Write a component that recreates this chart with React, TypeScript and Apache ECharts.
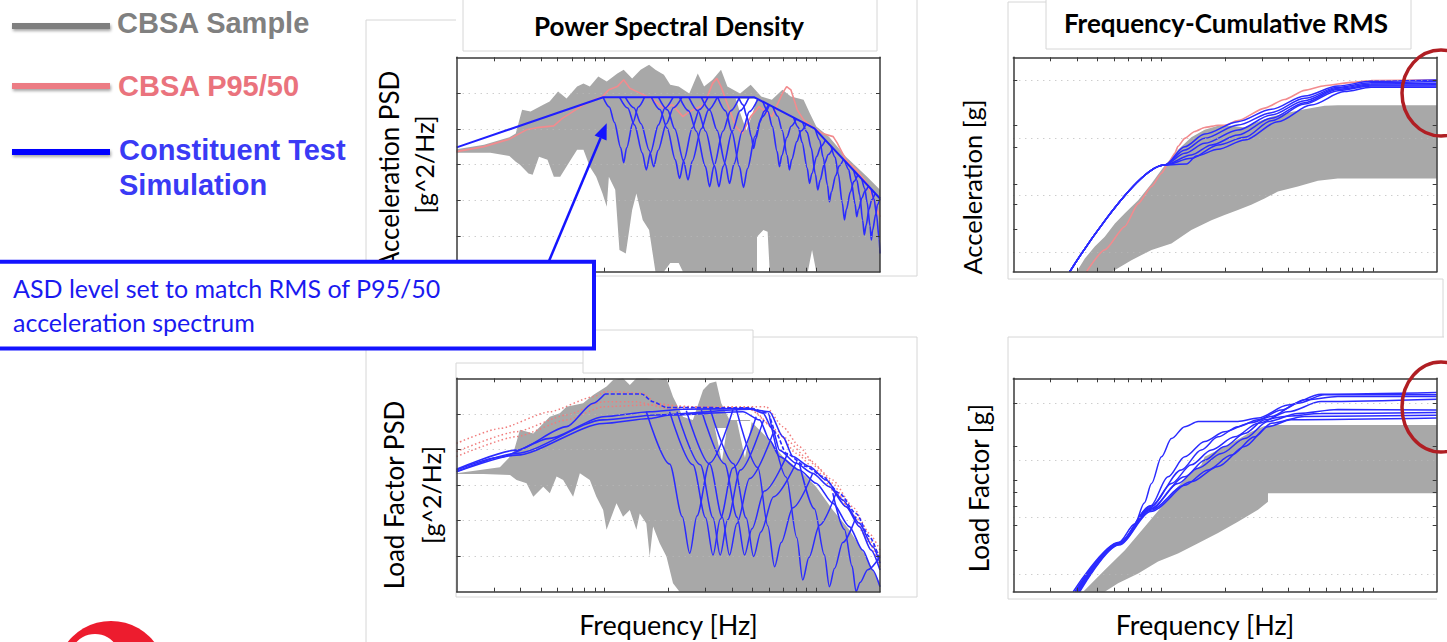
import React, { useEffect, useRef } from "react";
import * as echarts from "echarts";

type Pt = [number, number];

// x = log10(frequency [Hz]) from 2 Hz to 200 Hz ; y = log10(value)
const X_MIN = Math.log10(2);
const X_MAX = Math.log10(200);
const X_TICK_HZ = [3, 4, 5, 6, 7, 8, 9, 10, 20, 30, 40, 50, 60, 70, 80, 90, 100];

const PSD_Y_RANGE: Pt = [-6, 0];
const ACC_RMS_Y_RANGE: Pt = [-3.341, 0.408];
const LF_RMS_Y_RANGE: Pt = [-3.31, 0.439];
const PSD_Y_TICKS = [-5, -4, -3, -2, -1];
const ACC_RMS_Y_TICKS = [0, -0.78, -1.16, -1.81, -2.16, -2.59];
const LF_RMS_Y_TICKS = [0, -0.76, -1.35, -1.57, -1.81, -2.14, -2.58];
const PSD_GRID_LINES = [-5, -4, -3, -2, -1];
const RMS_GRID_LINES = [0, -1, -2, -3];

// ---------- Panel 1 : Acceleration PSD ----------
const accPsdEnvelope: Pt[] = [[0.301, -2.52], [0.993, -1.12], [1.708, -1.12], [1.991, -1.99], [2.301, -3.95]];
const accPsdP95: Pt[] = [[0.30, -2.64], [0.43, -2.50], [0.55, -2.29], [0.63, -2.03], [0.69, -1.96], [0.76, -1.92], [0.80, -1.71], [0.85, -1.52], [0.90, -1.33], [0.95, -1.19], [0.99, -1.10], [1.02, -0.91], [1.06, -0.82], [1.09, -0.63], [1.12, -0.87], [1.17, -1.01], [1.23, -1.19], [1.28, -1.43], [1.32, -1.33], [1.37, -1.66], [1.40, -1.52], [1.47, -1.33], [1.51, -0.73], [1.53, -0.59], [1.55, -0.82], [1.59, -1.47], [1.62, -1.94], [1.65, -2.13], [1.69, -1.66], [1.73, -1.38], [1.79, -1.66], [1.84, -1.01], [1.86, -0.82], [1.88, -0.91], [1.91, -1.47], [1.94, -1.75], [1.98, -1.94], [2.03, -2.13], [2.08, -2.22], [2.10, -2.41], [2.14, -2.87], [2.19, -3.15], [2.24, -3.53], [2.27, -3.99], [2.301, -4.46]];
const accPsdSampleUpper: Pt[] = [[0.30, -2.57], [0.43, -2.45], [0.55, -2.24], [0.58, -2.13], [0.61, -1.47], [0.65, -1.52], [0.71, -1.33], [0.74, -1.24], [0.78, -0.96], [0.82, -1.15], [0.87, -0.82], [0.90, -0.73], [0.93, -0.82], [0.97, -0.54], [1.01, -0.68], [1.06, -0.45], [1.09, -0.35], [1.13, -0.59], [1.17, -0.35], [1.21, -0.21], [1.24, -0.35], [1.28, -0.49], [1.31, -0.77], [1.35, -0.82], [1.40, -1.01], [1.44, -0.45], [1.47, -0.82], [1.51, -0.63], [1.53, -0.49], [1.55, -0.35], [1.58, -0.82], [1.64, -1.01], [1.69, -0.77], [1.74, -1.10], [1.79, -1.19], [1.84, -0.91], [1.88, -1.10], [1.94, -1.19], [1.97, -1.57], [2.00, -1.94], [2.06, -2.22], [2.10, -2.50], [2.14, -2.78], [2.19, -3.06], [2.24, -3.34], [2.301, -3.71]];
const accPsdSampleLower: Pt[] = [[0.30, -2.67], [0.46, -2.67], [0.55, -2.76], [0.58, -2.92], [0.60, -3.01], [0.64, -3.25], [0.66, -3.29], [0.69, -2.78], [0.73, -2.87], [0.76, -3.34], [0.79, -3.34], [0.84, -2.87], [0.87, -2.59], [0.90, -2.59], [0.93, -3.06], [0.96, -3.34], [0.99, -3.81], [1.01, -4.18], [1.02, -3.34], [1.05, -3.71], [1.07, -5.39], [1.10, -5.49], [1.13, -4.27], [1.15, -3.81], [1.18, -4.55], [1.21, -4.83], [1.24, -6.0], [1.28, -6.0], [1.31, -5.76], [1.35, -5.76], [1.37, -6.0], [1.72, -6.0], [1.72, -5.02], [1.75, -4.83], [1.77, -4.88], [1.78, -6.0], [1.96, -6.0], [1.98, -5.39], [2.00, -6.0], [2.301, -6.0]];
const accPsdSampleGap: Pt[] = [[1.62, -1.16], [1.72, -1.16], [1.70, -1.55], [1.67, -2.05], [1.64, -1.55]];
const accPsdNotches: Pt[][] = [
  [[0.993, -1.12], [1.022, -1.39], [1.046, -1.82], [1.076, -2.53], [1.090, -2.95], [1.104, -2.53], [1.134, -1.82], [1.159, -1.39], [1.188, -1.12]],
  [[1.071, -1.12], [1.109, -1.42], [1.141, -1.89], [1.178, -2.68], [1.197, -3.15], [1.216, -2.68], [1.254, -1.89], [1.285, -1.42], [1.323, -1.12]],
  [[1.098, -1.12], [1.138, -1.41], [1.172, -1.86], [1.211, -2.61], [1.232, -3.06], [1.252, -2.61], [1.292, -1.86], [1.325, -1.41], [1.365, -1.12]],
  [[1.221, -1.12], [1.261, -1.46], [1.295, -1.98], [1.334, -2.87], [1.354, -3.39], [1.375, -2.87], [1.414, -1.98], [1.448, -1.46], [1.488, -1.12]],
  [[1.255, -1.12], [1.297, -1.47], [1.331, -2.00], [1.373, -2.90], [1.394, -3.43], [1.414, -2.90], [1.457, -2.00], [1.491, -1.47], [1.532, -1.12]],
  [[1.354, -1.12], [1.397, -1.50], [1.433, -2.07], [1.476, -3.05], [1.496, -3.62], [1.516, -3.05], [1.559, -2.07], [1.595, -1.50], [1.637, -1.12]],
  [[1.398, -1.12], [1.441, -1.50], [1.477, -2.07], [1.520, -3.05], [1.540, -3.62], [1.560, -3.05], [1.603, -2.07], [1.639, -1.50], [1.682, -1.12]],
  [[1.457, -1.12], [1.497, -1.48], [1.531, -2.04], [1.570, -2.98], [1.590, -3.53], [1.611, -2.99], [1.650, -2.07], [1.684, -1.52], [1.724, -1.17]],
  [[1.534, -1.12], [1.571, -1.50], [1.601, -2.08], [1.637, -3.06], [1.656, -3.64], [1.675, -3.11], [1.711, -2.21], [1.742, -1.68], [1.779, -1.33]],
  [[1.633, -1.12], [1.654, -1.33], [1.672, -1.66], [1.693, -2.22], [1.704, -2.55], [1.715, -2.27], [1.735, -1.79], [1.753, -1.51], [1.774, -1.33]],
  [[1.748, -1.24], [1.771, -1.51], [1.792, -1.93], [1.815, -2.64], [1.826, -3.06], [1.837, -2.75], [1.861, -2.24], [1.881, -1.93], [1.905, -1.73]],
  [[1.795, -1.38], [1.818, -1.65], [1.839, -2.05], [1.862, -2.74], [1.873, -3.15], [1.884, -2.86], [1.908, -2.36], [1.928, -2.06], [1.952, -1.87]],
  [[1.892, -1.68], [1.915, -1.96], [1.933, -2.38], [1.957, -3.10], [1.968, -3.53], [1.979, -3.25], [2.002, -2.78], [2.021, -2.50], [2.043, -2.32]],
  [[1.936, -1.82], [1.957, -2.10], [1.976, -2.54], [1.996, -3.28], [2.007, -3.71], [2.018, -3.44], [2.038, -2.98], [2.057, -2.72], [2.078, -2.54]],
  [[1.996, -2.02], [2.016, -2.32], [2.032, -2.79], [2.053, -3.58], [2.062, -4.04], [2.071, -3.77], [2.092, -3.31], [2.108, -3.04], [2.128, -2.86]],
  [[2.070, -2.49], [2.089, -2.80], [2.104, -3.27], [2.123, -4.08], [2.133, -4.55], [2.142, -4.26], [2.161, -3.77], [2.177, -3.48], [2.196, -3.29]],
  [[2.136, -2.91], [2.153, -3.14], [2.166, -3.50], [2.183, -4.10], [2.191, -4.46], [2.199, -4.26], [2.216, -3.93], [2.230, -3.74], [2.246, -3.61]],
  [[2.177, -3.17], [2.192, -3.44], [2.205, -3.85], [2.219, -4.56], [2.227, -4.97], [2.235, -4.71], [2.249, -4.26], [2.262, -3.99], [2.277, -3.82]],
  [[2.216, -3.42], [2.229, -3.67], [2.240, -4.06], [2.254, -4.72], [2.260, -5.11], [2.266, -4.84], [2.281, -4.39], [2.289, -4.12], [2.301, -3.95]],
  [[2.260, -3.70], [2.273, -3.97], [2.284, -4.38], [2.297, -5.08], [2.301, -5.49]],
];

// ---------- Panel 2 : Acceleration cumulative RMS ----------
const accRmsP95: Pt[] = [[0.647, -3.34], [0.733, -2.96], [0.828, -2.55], [0.891, -2.15], [0.954, -1.85], [1.001, -1.62], [1.032, -1.45], [1.064, -1.27], [1.079, -1.15], [1.111, -1.01], [1.158, -0.89], [1.205, -0.82], [1.268, -0.78], [1.299, -0.78], [1.362, -0.70], [1.488, -0.48], [1.582, -0.33], [1.677, -0.17], [1.771, -0.09], [1.897, -0.03], [1.991, 0], [2.301, 0.01]];
const accRmsSampleUpper: Pt[] = [[0.600, -3.34], [0.639, -3.11], [0.686, -2.90], [0.733, -2.73], [0.781, -2.50], [0.828, -2.32], [0.891, -2.09], [0.954, -1.80], [1.001, -1.56], [1.032, -1.42], [1.079, -1.21], [1.142, -0.99], [1.205, -0.86], [1.268, -0.79], [1.331, -0.79], [1.394, -0.82], [1.457, -0.72], [1.520, -0.63], [1.598, -0.56], [1.677, -0.50], [1.771, -0.44], [1.834, -0.43], [2.301, -0.43]];
const accRmsSampleLower: Pt[] = [[0.765, -3.34], [0.781, -3.31], [0.859, -3.14], [0.954, -2.96], [1.048, -2.85], [1.142, -2.61], [1.237, -2.44], [1.299, -2.35], [1.362, -2.26], [1.425, -2.17], [1.488, -2.06], [1.551, -1.94], [1.645, -1.85], [1.740, -1.75], [1.834, -1.71], [2.301, -1.71]];
const accRmsTests: Pt[][] = [
  [[0.568, -3.341], [1.016, -1.475], [1.111, -1.155], [1.205, -0.933], [1.362, -0.717], [1.520, -0.501], [1.677, -0.268], [1.834, -0.093], [1.991, -0.012], [2.301, 0.012]],
  [[0.568, -3.341], [1.016, -1.475], [1.111, -1.213], [1.205, -1.009], [1.362, -0.776], [1.520, -0.560], [1.677, -0.309], [1.834, -0.117], [1.991, -0.035], [2.301, -0.017]],
  [[0.568, -3.341], [1.016, -1.475], [1.111, -1.271], [1.205, -1.096], [1.362, -0.863], [1.520, -0.601], [1.677, -0.350], [1.834, -0.134], [1.991, -0.058], [2.301, -0.047]],
  [[0.568, -3.341], [1.016, -1.475], [1.142, -1.300], [1.237, -1.125], [1.362, -0.950], [1.520, -0.659], [1.677, -0.385], [1.834, -0.152], [1.991, -0.076], [2.301, -0.070]],
  [[0.568, -3.341], [1.016, -1.475], [1.142, -1.359], [1.268, -1.125], [1.394, -0.991], [1.520, -0.700], [1.677, -0.408], [1.834, -0.175], [1.991, -0.093], [2.301, -0.093]],
  [[0.568, -3.341], [1.016, -1.475], [1.119, -1.458], [1.166, -1.318], [1.268, -1.201], [1.394, -1.038], [1.551, -0.717], [1.708, -0.426], [1.865, -0.192], [1.991, -0.117], [2.301, -0.117]],
];

// ---------- Panel 3 : Load factor PSD ----------
const lfPsdSolid: Pt[][] = [
  [[0.30, -2.58], [0.505, -2.22], [0.741, -1.69], [0.993, -1.08], [1.213, -0.94], [1.370, -0.87], [1.685, -0.85], [1.748, -0.98], [1.795, -1.45], [1.826, -2.02], [1.905, -2.39], [1.983, -2.67], [2.062, -3.05], [2.141, -3.61], [2.204, -4.17], [2.259, -4.83], [2.301, -5.39]],
  [[0.30, -2.56], [0.584, -2.02], [0.820, -1.36], [0.946, -0.70], [1.001, -0.44]],
  [[0.30, -2.63], [0.584, -2.16], [0.993, -1.27], [1.213, -1.13], [1.307, -1.03], [1.653, -0.94], [1.732, -1.17], [1.779, -1.73], [1.826, -2.20], [1.920, -2.58], [1.999, -2.95], [2.078, -3.51], [2.156, -4.17], [2.219, -4.83], [2.266, -5.39], [2.301, -5.86]],
  [[0.30, -2.62], [0.584, -2.11], [0.993, -1.17], [1.244, -1.03], [1.685, -0.87], [1.779, -0.94], [1.842, -1.64], [1.889, -2.20], [1.968, -2.48], [2.046, -2.86], [2.125, -3.42], [2.204, -4.08], [2.266, -4.73], [2.301, -5.20]],
];
const lfPsdDashed: Pt[] = [[1.001, -0.44], [1.174, -0.44], [1.229, -0.66], [1.292, -0.82], [1.685, -0.83], [1.771, -0.98], [1.810, -1.55], [1.858, -2.11], [1.952, -2.48], [2.031, -2.76], [2.109, -3.23], [2.188, -3.80], [2.251, -4.45], [2.301, -5.11]];
const lfPsdDrops: Pt[][] = [
  [[1.197, -0.94], [1.307, -2.41], [1.367, -3.89], [1.402, -4.92], [1.436, -3.87], [1.496, -2.38], [1.606, -0.89]],
  [[1.307, -0.94], [1.417, -2.43], [1.477, -3.92], [1.512, -4.97], [1.546, -3.96], [1.606, -2.52], [1.716, -1.08]],
  [[1.342, -0.94], [1.452, -2.43], [1.512, -3.92], [1.546, -4.97], [1.581, -3.98], [1.641, -2.58], [1.751, -1.17]],
  [[1.386, -0.91], [1.496, -2.41], [1.556, -3.91], [1.590, -4.97], [1.625, -4.08], [1.685, -2.82], [1.795, -1.55]],
  [[1.457, -0.89], [1.567, -2.40], [1.626, -3.91], [1.661, -4.97], [1.696, -4.23], [1.755, -3.17], [1.865, -2.11]],
  [[1.499, -0.87], [1.609, -2.40], [1.669, -3.93], [1.704, -5.01], [1.738, -4.32], [1.798, -3.33], [1.908, -2.34]],
  [[1.622, -0.87], [1.724, -2.51], [1.771, -4.15], [1.803, -5.30], [1.834, -4.62], [1.889, -3.64], [1.983, -2.67]],
  [[1.779, -1.08], [1.858, -2.78], [1.908, -4.48], [1.936, -5.67], [1.965, -5.04], [2.015, -4.13], [2.093, -3.23]],
  [[1.920, -2.39], [1.991, -3.67], [2.038, -4.96], [2.062, -5.86], [2.086, -5.35], [2.125, -4.62], [2.188, -3.89]],
  [[2.078, -3.23], [2.133, -4.25], [2.169, -5.28], [2.188, -6.0], [2.207, -5.74], [2.243, -5.38], [2.301, -5.01]],
];
const lfPsdP95: Pt[][] = [
  [[0.30, -1.83], [0.505, -1.41], [0.741, -0.94], [0.946, -0.52], [1.009, -0.37], [1.182, -0.42], [1.244, -0.70], [1.370, -0.80], [1.763, -0.80], [1.842, -1.36], [1.920, -1.92], [1.999, -2.48], [2.078, -2.95], [2.156, -3.70], [2.235, -4.45], [2.301, -5.01]],
  [[0.30, -2.06], [0.584, -1.50], [0.820, -1.03], [0.993, -0.66], [1.150, -0.66], [1.292, -0.84], [1.685, -0.82], [1.810, -1.45], [1.905, -2.11], [1.999, -2.58], [2.093, -3.23], [2.188, -3.89], [2.251, -4.64], [2.301, -5.30]],
  [[0.30, -2.20], [0.584, -1.64], [0.820, -1.17], [0.993, -0.80], [1.213, -0.75], [1.685, -0.87], [1.842, -1.64], [1.968, -2.30], [2.078, -2.86], [2.172, -3.61], [2.251, -4.36], [2.301, -4.83]],
];
const lfPsdSampleUpper: Pt[] = [[0.30, -2.67], [0.505, -2.50], [0.568, -2.11], [0.600, -1.45], [0.663, -1.55], [0.741, -1.08], [0.788, -0.98], [0.820, -0.80], [0.898, -0.70], [0.946, -0.47], [1.009, -0.23], [1.040, -0.05], [1.087, 0], [1.119, -0.19], [1.150, 0], [1.197, 0], [1.244, -0.05], [1.292, 0], [1.323, -0.52], [1.370, -1.08], [1.417, -1.17], [1.465, -0.33], [1.496, -0.14], [1.527, -0.09], [1.551, -0.70], [1.590, -1.17], [1.685, -1.17], [1.763, -1.64], [1.842, -2.20], [1.920, -2.58], [1.999, -3.05], [2.078, -3.70], [2.156, -4.26], [2.235, -5.01], [2.301, -5.76]];
const lfPsdSampleLower: Pt[] = [[0.30, -2.69], [0.427, -2.69], [0.553, -2.72], [0.584, -2.86], [0.631, -2.95], [0.663, -3.33], [0.710, -3.05], [0.741, -3.23], [0.773, -2.76], [0.804, -2.86], [0.851, -3.33], [0.883, -2.67], [0.930, -2.86], [0.961, -3.33], [0.993, -3.70], [1.009, -4.26], [1.056, -3.51], [1.087, -3.89], [1.119, -3.70], [1.150, -4.26], [1.166, -3.80], [1.197, -4.08], [1.213, -5.01], [1.229, -4.17], [1.260, -4.64], [1.292, -5.01], [1.323, -5.76], [1.354, -6.0], [2.301, -6.0]];
const lfPsdSampleGaps: Pt[][] = [
  [[1.521, -1.40], [1.578, -1.40], [1.554, -2.33]],
  [[1.625, -1.20], [1.696, -1.20], [1.663, -2.24]],
];

// ---------- Panel 4 : Load factor cumulative RMS ----------
const lfRmsTests: Pt[][] = [
  [[0.584, -3.31], [0.80, -2.44], [0.875, -2.12], [0.92, -1.75], [0.954, -1.41], [1.001, -0.94], [1.048, -0.62], [1.111, -0.41], [1.174, -0.32], [1.362, -0.32], [1.457, -0.26], [1.598, -0.03], [1.755, 0.16], [2.301, 0.19]],
  [[0.592, -3.31], [0.80, -2.45], [0.95, -1.80], [1.032, -1.29], [1.111, -0.94], [1.205, -0.67], [1.299, -0.50], [1.425, -0.34], [1.520, -0.23], [1.645, 0], [1.771, 0.15], [2.301, 0.15]],
  [[0.600, -3.31], [0.80, -2.46], [0.95, -1.83], [1.048, -1.41], [1.142, -1.08], [1.237, -0.82], [1.347, -0.59], [1.457, -0.35], [1.598, -0.15], [1.755, 0.03], [2.301, 0.07]],
  [[0.604, -3.31], [0.80, -2.47], [0.95, -1.86], [1.079, -1.41], [1.174, -1.14], [1.284, -0.88], [1.394, -0.62], [1.504, -0.32], [1.645, -0.18], [1.834, -0.11], [2.301, -0.12]],
  [[0.611, -3.31], [0.80, -2.48], [0.95, -1.88], [1.111, -1.44], [1.221, -1.17], [1.331, -0.91], [1.441, -0.59], [1.520, -0.35], [1.677, -0.23], [2.301, -0.21]],
  [[0.615, -3.31], [0.80, -2.49], [0.95, -1.90], [1.142, -1.38], [1.268, -1.11], [1.394, -0.76], [1.504, -0.41], [1.614, -0.29], [2.301, -0.26]],
  [[0.595, -3.31], [0.80, -2.45], [0.95, -1.81], [1.095, -1.17], [1.189, -0.82], [1.268, -0.59], [1.362, -0.41], [1.457, -0.29], [1.567, -0.12], [1.677, 0.06], [1.834, 0.12], [2.301, 0.12]],
  [[0.608, -3.31], [0.80, -2.47], [0.95, -1.85], [1.111, -1.29], [1.205, -1.00], [1.299, -0.76], [1.394, -0.53], [1.488, -0.29], [1.582, -0.23], [1.755, -0.18], [2.301, -0.16]],
];
const lfRmsSampleUpper: Pt[] = [[0.631, -3.31], [0.733, -2.93], [0.828, -2.58], [0.922, -2.17], [1.001, -1.82], [1.079, -1.46], [1.142, -1.23], [1.189, -1.08], [1.205, -0.94], [1.331, -0.70], [1.425, -0.50], [1.488, -0.40], [1.520, -0.38], [2.301, -0.38]];
const lfRmsSampleLower: Pt[] = [[0.733, -3.31], [0.796, -3.16], [0.891, -2.99], [0.985, -2.78], [1.079, -2.64], [1.174, -2.46], [1.268, -2.28], [1.362, -2.08], [1.457, -1.87], [1.504, -1.73], [1.504, -1.58], [2.301, -1.58]];

// ---------- styling ----------
const GRAY = "#a8a8a8";
const BLUE = "#2b2bff";
const PINK = "#f28b8e";
const AXIS = "#3a3a3a";
const FRAME = "#d6d6d6";

const GRIDS = [
  { left: 456.7, top: 57.3, width: 423.3, height: 214.4 },
  { left: 1013.3, top: 57.3, width: 423.4, height: 214.4 },
  { left: 456.7, top: 378.3, width: 423.3, height: 213.4 },
  { left: 1013.3, top: 378.3, width: 423.4, height: 213.4 },
];
const Y_RANGES = [PSD_Y_RANGE, ACC_RMS_Y_RANGE, PSD_Y_RANGE, LF_RMS_Y_RANGE];
const Y_TICKS = [PSD_Y_TICKS, ACC_RMS_Y_TICKS, PSD_Y_TICKS, LF_RMS_Y_TICKS];
const Y_GRID = [PSD_GRID_LINES, RMS_GRID_LINES, PSD_GRID_LINES, RMS_GRID_LINES];

function lineSeries(gi: number, data: Pt[], color: string, width: number, z: number, extra: any = {}) {
  return {
    type: "line", xAxisIndex: 2 * gi, yAxisIndex: 2 * gi, data, symbol: "none", showSymbol: false,
    silent: true, clip: true, z, animation: false,
    lineStyle: { color, width, type: extra.dash || "solid" },
    smooth: extra.smooth ?? 0, smoothMonotone: "x",
  };
}

function polySeries(gi: number, pts: Pt[], fill: string, z: number) {
  return {
    type: "custom", xAxisIndex: 2 * gi, yAxisIndex: 2 * gi, data: pts, clip: true, silent: true, z,
    renderItem: (params: any, api: any) => {
      if (params.dataIndex !== 0) return null;
      return { type: "polygon", shape: { points: pts.map((p) => api.coord(p)) }, style: { fill } };
    },
  };
}

function bandSeries(gi: number, upper: Pt[], lower: Pt[]) {
  return polySeries(gi, upper.concat(lower.slice().reverse()), GRAY, 2);
}

function gridLineSeries(gi: number, vals: number[]) {
  return {
    type: "line", xAxisIndex: 2 * gi, yAxisIndex: 2 * gi, data: [[X_MIN, vals[0]]], symbol: "none",
    lineStyle: { opacity: 0 }, silent: true, z: 1,
    markLine: {
      silent: true, symbol: "none", label: { show: false }, animation: false,
      lineStyle: { type: [1, 5], color: "#b8b8b8", width: 1 },
      data: vals.map((v) => ({ yAxis: v })),
    },
  };
}

function buildOption() {
  const xTicks = X_TICK_HZ.map((v) => Math.log10(v));
  const axisLine = { show: true, onZero: false, lineStyle: { color: AXIS, width: 1.5 } };
  const xAxis: any[] = [];
  const yAxis: any[] = [];
  GRIDS.forEach((_, i) => {
    ["bottom", "top"].forEach((pos) =>
      xAxis.push({
        type: "value", gridIndex: i, position: pos, min: X_MIN, max: X_MAX, z: 30,
        axisLine, axisTick: { show: true, inside: true, length: 4, customValues: xTicks, lineStyle: { color: AXIS, width: 1 } },
        axisLabel: { show: false }, splitLine: { show: false },
      })
    );
    ["left", "right"].forEach((pos) =>
      yAxis.push({
        type: "value", gridIndex: i, position: pos, min: Y_RANGES[i][0], max: Y_RANGES[i][1], z: 30,
        axisLine, axisTick: { show: true, inside: true, length: 4, customValues: Y_TICKS[i], lineStyle: { color: AXIS, width: 1 } },
        axisLabel: { show: false }, splitLine: { show: false },
      })
    );
  });

  const series: any[] = [];
  GRIDS.forEach((_, i) => series.push(gridLineSeries(i, Y_GRID[i])));
  // panel 1
  series.push(bandSeries(0, accPsdSampleUpper, accPsdSampleLower));
  series.push(polySeries(0, accPsdSampleGap, "#ffffff", 2.5));
  series.push(lineSeries(0, accPsdP95, PINK, 1.6, 3));
  accPsdNotches.forEach((n) => series.push(lineSeries(0, n, BLUE, 1.6, 4, { smooth: 0.3 })));
  series.push(lineSeries(0, accPsdEnvelope, "#1f1fff", 2, 5));
  // panel 2
  series.push(bandSeries(1, accRmsSampleUpper, accRmsSampleLower));
  series.push(lineSeries(1, accRmsP95, PINK, 1.6, 3, { smooth: 0.2 }));
  accRmsTests.forEach((t) => series.push(lineSeries(1, t, BLUE, 1.5, 4, { smooth: 0.3 })));
  // panel 3
  series.push(bandSeries(2, lfPsdSampleUpper, lfPsdSampleLower));
  lfPsdSampleGaps.forEach((g) => series.push(polySeries(2, g, "#ffffff", 2.5)));
  lfPsdP95.forEach((p) => series.push(lineSeries(2, p, "#f07c7c", 1.5, 3, { dash: [1.5, 2.5], smooth: 0.2 })));
  lfPsdSolid.forEach((l) => series.push(lineSeries(2, l, BLUE, 1.6, 4, { smooth: 0.25 })));
  series.push(lineSeries(2, lfPsdDashed, BLUE, 1.6, 4, { dash: [4, 2], smooth: 0.25 }));
  lfPsdDrops.forEach((d) => series.push(lineSeries(2, d, BLUE, 1.5, 4, { smooth: 0.3 })));
  // panel 4
  series.push(bandSeries(3, lfRmsSampleUpper, lfRmsSampleLower));
  lfRmsTests.forEach((t) => series.push(lineSeries(3, t, BLUE, 1.5, 4, { smooth: 0.3 })));

  const calibri = 'Lato, "Noto Sans", sans-serif';
  const arial = '"Liberation Sans", Arial, sans-serif';
  const txt = (text: string, x: number, y: number, font: string, fill: string, align = "left", rot = 0, z = 50) => ({
    type: "text", x, y, rotation: rot, z,
    style: { text, x: 0, y: 0, font, fill, align, verticalAlign: "middle" },
  });
  const frameLine = (points: number[][]) => ({ type: "polyline", z: 1, shape: { points }, style: { stroke: FRAME, lineWidth: 1, fill: null } });
  const frameRect = (x: number, y: number, w: number, h: number) => ({ type: "rect", z: 1, shape: { x, y, width: w, height: h }, style: { stroke: FRAME, lineWidth: 1, fill: "none" } });
  const legendBar = (y: number, color: string) => ({
    type: "rect", z: 50, shape: { x: 12, y: y - 3, width: 98, height: 6 },
    style: { fill: color, shadowBlur: 3, shadowOffsetY: 2, shadowOffsetX: 1, shadowColor: "rgba(0,0,0,0.35)" },
  });

  const graphic: any[] = [
    // image frames
    frameLine([[366, 642], [366, 20], [456, 20]]),
    frameRect(463, -1, 414, 52),
    frameLine([[917, 0], [917, 276], [456, 276]]),
    frameLine([[1046, 2], [1008, 2], [1008, 279], [1443, 279], [1443, 337]]),
    frameRect(1046, -1, 365, 50),
    frameLine([[456, 597], [456, 363], [583, 363]]),
    frameRect(583, 330, 170, 43),
    frameLine([[753, 337], [917, 337], [917, 597], [456, 597]]),
    frameLine([[1008, 599], [1008, 337], [1444, 337]]),
    frameLine([[1008, 599], [1437, 599]]),
    // titles
    txt("Power Spectral Density", 669, 25.5, `bold 26px ${calibri}`, "#000", "center"),
    txt("Frequency-Cumulative RMS", 1226, 22.7, `bold 26px ${calibri}`, "#000", "center"),
    // axis labels
    txt("Acceleration PSD", 389, 170, `26px ${calibri}`, "#000", "center", Math.PI / 2),
    txt("[g^2/Hz]", 424, 164.5, `25px ${calibri}`, "#000", "center", Math.PI / 2),
    txt("Load Factor PSD", 394, 495, `26px ${calibri}`, "#000", "center", Math.PI / 2),
    txt("[g^2/Hz]", 431, 495, `25px ${calibri}`, "#000", "center", Math.PI / 2),
    txt("Acceleration [g]", 972, 187, `25.5px ${calibri}`, "#000", "center", Math.PI / 2),
    txt("Load Factor [g]", 979, 488, `26px ${calibri}`, "#000", "center", Math.PI / 2),
    txt("Frequency [Hz]", 668.5, 624.5, `27px ${calibri}`, "#000", "center"),
    txt("Frequency [Hz]", 1205, 624.5, `27px ${calibri}`, "#000", "center"),
    // legend
    legendBar(26, "#7f7f7f"),
    legendBar(86, "#ec7c84"),
    legendBar(152, "#0000ff"),
    txt("CBSA Sample", 117, 22.9, `bold 29px ${arial}`, "#808080"),
    txt("CBSA P95/50", 118, 86.3, `bold 29px ${arial}`, "#ea737d"),
    txt("Constituent Test", 119, 149.6, `bold 29px ${arial}`, "#3a3af5"),
    txt("Simulation", 119, 184.6, `bold 29px ${arial}`, "#3a3af5"),
    // annotation box + arrow
    { type: "rect", z: 100, shape: { x: -10, y: 261.7, width: 604, height: 86.8 }, style: { fill: "#fff", stroke: "#1414ff", lineWidth: 4 } },
    txt("ASD level set to match RMS of P95/50", 13, 288.3, `25px ${calibri}`, "#1a1af0", "left", 0, 101),
    txt("acceleration spectrum", 13, 321.7, `25px ${calibri}`, "#1a1af0", "left", 0, 101),
    { type: "line", z: 100, shape: { x1: 549, y1: 261, x2: 600.6, y2: 138.1 }, style: { stroke: "#1414ff", lineWidth: 2.5 } },
    { type: "polygon", z: 100, shape: { points: [[606.7, 123.3], [606.6, 140.6], [594.6, 135.6]] }, style: { fill: "#1414ff" } },
    // red highlight ellipses
    { type: "ellipse", z: 100, shape: { cx: 1441, cy: 93, rx: 39, ry: 43 }, style: { fill: "none", stroke: "#b01e23", lineWidth: 3.5 } },
    { type: "ellipse", z: 100, shape: { cx: 1441, cy: 407, rx: 39, ry: 45 }, style: { fill: "none", stroke: "#b01e23", lineWidth: 3.5 } },
    // logo fragment
    { type: "circle", z: 100, shape: { cx: 111, cy: 676, r: 55 }, style: { fill: "#ed1c2e" } },
    { type: "circle", z: 101, shape: { cx: 95, cy: 659, r: 25 }, style: { fill: "#fff" } },
  ];

  return {
    animation: false,
    backgroundColor: "#fff",
    grid: GRIDS.map((g) => ({ ...g, containLabel: false })),
    xAxis, yAxis, series, graphic,
  };
}

export default function App() {
  const ref = useRef<HTMLDivElement>(null);
  useEffect(() => {
    const chart = echarts.init(ref.current!, undefined, { renderer: "svg" });
    chart.setOption(buildOption() as any);
    return () => chart.dispose();
  }, []);
  return <div ref={ref} style={{ position: "fixed", left: 0, top: 0, width: 1447, height: 642, background: "#fff" }} />;
}
